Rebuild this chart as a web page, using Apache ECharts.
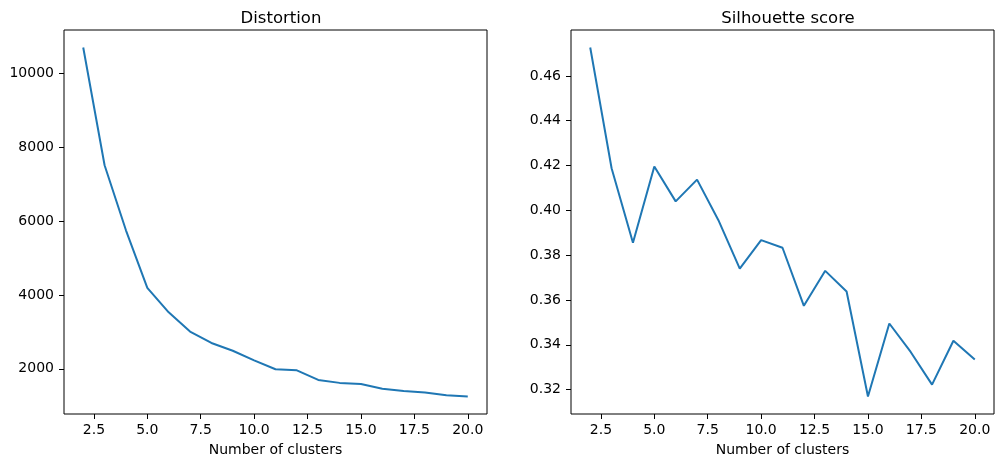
<!DOCTYPE html>
<html>
<head>
<meta charset="utf-8">
<script src="https://cdn.jsdelivr.net/npm/echarts@6/dist/echarts.min.js"></script>
<style>
  html, body { margin: 0; padding: 0; background: #fff; }
  #chart { width: 1004px; height: 468px; }
</style>
</head>
<body>
<div id="chart"></div>
<script>
// values
const clusters = [2, 3, 4, 5, 6, 7, 8, 9, 10, 11, 12, 13, 14, 15, 16, 17, 18, 19, 20];
const distortion = [10700, 7510, 5750, 4190, 3530, 3010, 2700, 2490, 2230, 1990, 1960, 1700, 1620, 1590, 1460, 1400, 1360, 1285, 1250];
const silhouette = [0.4727, 0.4188, 0.3855, 0.4196, 0.4040, 0.4137, 0.3956, 0.3740, 0.3867, 0.3833, 0.3574, 0.3730, 0.3638, 0.3169, 0.3495, 0.3368, 0.3222, 0.3418, 0.3334];
const xTicks = [2.5, 5, 7.5, 10, 12.5, 15, 17.5, 20];
const distortionTicks = [2000, 4000, 6000, 8000, 10000];
const silhouetteTicks = [0.32, 0.34, 0.36, 0.38, 0.40, 0.42, 0.44, 0.46];

const font = 'DejaVu Sans';
const blue = '#1f77b4';

// matplotlib style 5% margins around the data
function pad(arr) {
    const lo = Math.min(...arr), hi = Math.max(...arr);
    const m = (hi - lo) * 0.05;
    return [lo - m, hi + m];
}
const xr = pad(clusters);
const dr = pad(distortion);
const sr = pad(silhouette);

function xAxis(gridIndex) {
    return {
        type: 'value', gridIndex, min: xr[0], max: xr[1],
        name: 'Number of clusters', nameLocation: 'middle', nameGap: 29,
        nameTextStyle: { fontFamily: font, fontSize: 14, color: '#000' },
        axisLine: { show: false },
        axisTick: { show: true, inside: false, length: 5, customValues: xTicks, lineStyle: { color: '#000', width: 1 } },
        axisLabel: { customValues: xTicks, margin: 9, fontFamily: font, fontSize: 14, color: '#000',
            formatter: v => v.toFixed(1) },
        splitLine: { show: false }
    };
}
function yAxis(gridIndex, r, ticks, digits) {
    return {
        type: 'value', gridIndex, min: r[0], max: r[1],
        axisLine: { show: false },
        axisTick: { show: true, inside: false, length: 5, customValues: ticks, lineStyle: { color: '#000', width: 1 } },
        axisLabel: { customValues: ticks, margin: 10, fontFamily: font, fontSize: 14, color: '#000',
            formatter: v => v.toFixed(digits) },
        splitLine: { show: false }
    };
}

const chart = echarts.init(document.getElementById('chart'), null, { renderer: 'canvas' });
chart.setOption({
    animation: false,
    backgroundColor: '#fff',
    title: [
        { text: 'Distortion', left: 276, top: 5, textAlign: 'center',
          textStyle: { fontFamily: font, fontSize: 16.5, fontWeight: 'normal', color: '#000' } },
        { text: 'Silhouette score', left: 783, top: 5, textAlign: 'center',
          textStyle: { fontFamily: font, fontSize: 16.5, fontWeight: 'normal', color: '#000' } }
    ],
    grid: [
        { left: 64, top: 30, width: 423, height: 384, show: true, borderColor: '#000', borderWidth: 1, backgroundColor: '#fff' },
        { left: 571, top: 30, width: 423, height: 384, show: true, borderColor: '#000', borderWidth: 1, backgroundColor: '#fff' }
    ],
    xAxis: [xAxis(0), xAxis(1)],
    yAxis: [yAxis(0, dr, distortionTicks, 0), yAxis(1, sr, silhouetteTicks, 2)],
    series: [
        { type: 'line', xAxisIndex: 0, yAxisIndex: 0, showSymbol: false,
          lineStyle: { color: blue, width: 2 }, data: clusters.map((c, i) => [c, distortion[i]]) },
        { type: 'line', xAxisIndex: 1, yAxisIndex: 1, showSymbol: false,
          lineStyle: { color: blue, width: 2 }, data: clusters.map((c, i) => [c, silhouette[i]]) }
    ]
});
</script>
</body>
</html>
